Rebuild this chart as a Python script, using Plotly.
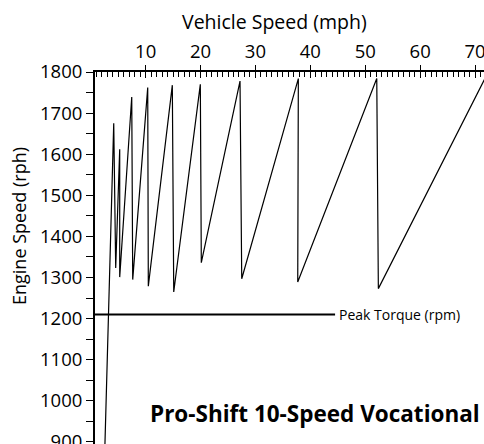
import plotly.graph_objects as go

# ---- data ----
speed_mph = [2.5, 4.19, 4.55, 5.28, 5.28, 7.47, 7.65, 10.38, 10.49, 14.86, 15.12,
             19.96, 20.14, 27.19, 27.50, 37.81, 37.70, 52.09, 52.38, 72.4]
engine_rpm = [850, 1675, 1323, 1612, 1301, 1739, 1295, 1762, 1279, 1768, 1265,
              1770, 1336, 1778, 1297, 1784, 1289, 1784, 1273, 1800]

peak_torque_rpm = 1210
peak_torque_speed = [0.78, 44.5]

x_tick_vals = [10, 20, 30, 40, 50, 60, 70]
y_tick_vals = [900, 1000, 1100, 1200, 1300, 1400, 1500, 1600, 1700, 1800]

FONT = "Open Sans"
W, H = 484, 444
ML, MT = 95, 72
X_RANGE = [0.78, 71.62]
Y_RANGE = [895, 1800]

def px(xp):
    return (xp - ML) / (W - ML)

def py(yp):
    return (H - yp) / (H - MT)

fig = go.Figure()
fig.add_trace(go.Scatter(x=speed_mph, y=engine_rpm, mode="lines",
                         line=dict(color="black", width=1.2),
                         hoverinfo="skip", showlegend=False))
fig.add_trace(go.Scatter(x=peak_torque_speed, y=[peak_torque_rpm] * 2, mode="lines",
                         line=dict(color="black", width=2),
                         hoverinfo="skip", showlegend=False))
# helper invisible trace for the overlay axis
fig.add_trace(go.Scatter(x=[None], y=[None], xaxis="x2", showlegend=False))

fig.update_layout(
    width=W, height=H,
    margin=dict(l=ML, r=0, t=MT, b=0, pad=0, autoexpand=False),
    paper_bgcolor="white", plot_bgcolor="white",
    font=dict(family=FONT, color="black"),
    xaxis=dict(side="top", range=X_RANGE, tickvals=x_tick_vals, automargin=False,
               ticklabeloverflow="allow",
               ticks="outside", ticklen=5, tickwidth=1.2, tickcolor="black",
               showline=True, linecolor="black", linewidth=2,
               showgrid=False, zeroline=False,
               tickfont=dict(size=18.5, family=FONT),
               minor=dict(dtick=1, tick0=0, ticks="inside", ticklen=5,
                          tickwidth=1, tickcolor="black", showgrid=False)),
    xaxis2=dict(overlaying="x", side="top", range=X_RANGE, tickvals=x_tick_vals,
                automargin=False,
                ticks="inside", ticklen=6, tickwidth=1.2, tickcolor="black",
                showticklabels=False, showline=False, showgrid=False, zeroline=False),
    yaxis=dict(range=Y_RANGE, tickvals=y_tick_vals, automargin=False,
               ticklabeloverflow="allow",
               ticks="outside", ticklen=7, tickwidth=1.3, tickcolor="black",
               showline=True, linecolor="black", linewidth=2,
               showgrid=False, zeroline=False,
               tickfont=dict(size=18.5, family=FONT),
               minor=dict(dtick=50, tick0=0, ticks="outside", ticklen=7,
                          tickwidth=1.3, tickcolor="black", showgrid=False)),
    annotations=[
        dict(text="Vehicle Speed (mph)", xref="paper", yref="paper",
             x=px(274), y=py(22), showarrow=False,
             font=dict(size=19.5, family=FONT), xanchor="center", yanchor="middle"),
        dict(text="Engine Speed (rph)", xref="paper", yref="paper",
             x=px(19), y=py(226), textangle=-90, showarrow=False,
             font=dict(size=18, family=FONT), xanchor="center", yanchor="middle"),
        dict(text="Peak Torque (rpm)", x=peak_torque_speed[1], y=peak_torque_rpm,
             xref="x", yref="y", showarrow=False, xanchor="left", yanchor="middle",
             xshift=2, font=dict(size=14, family=FONT)),
        dict(text="<b>Pro-Shift 10-Speed Vocational</b>", xref="paper", yref="paper",
             x=px(482), y=py(413), showarrow=False, xanchor="right", yanchor="middle",
             font=dict(size=22.5, family=FONT)),
    ],
)

fig.write_html("out.html", config={"displayModeBar": False},
               post_script="document.body.style.margin='0px';")
